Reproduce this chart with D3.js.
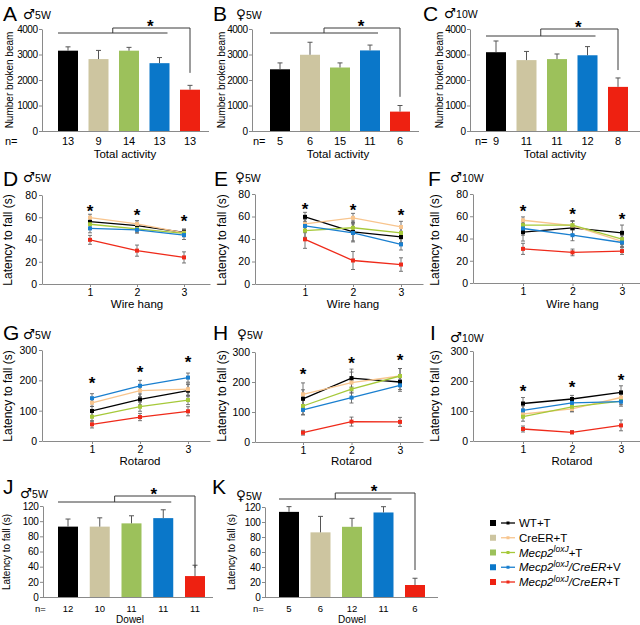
<!DOCTYPE html>
<html><head><meta charset="utf-8">
<script src="https://cdn.jsdelivr.net/npm/d3@7"></script>
<style>
body{margin:0;background:#fff}
svg{display:block;font-family:"Liberation Sans",Arial,Helvetica,sans-serif}
</style>
</head><body>
<svg id="c" width="640" height="625"></svg>
<script>
// ---------------- DATA ----------------
const groups = ["WT+T","CreER+T","Mecp2loxJ+T","Mecp2loxJ/CreER+V","Mecp2loxJ/CreER+T"];
const barColors  = ["#000000","#cdc5a0","#9cc15b","#0a77c9","#ee2111"];
const lineColors = ["#000000","#f8c58e","#a6c93a","#1a7fcf","#ef2a1a"];

// Total activity (number broken beam)
const actM5Mean  = [3150, 2820, 3150, 2660, 1620];
const actM5Err   = [150, 340, 130, 220, 170];
const actM5N     = [13, 9, 14, 13, 13];
const actF5Mean  = [2420, 2990, 2490, 3160, 760];
const actF5Err   = [250, 490, 180, 210, 240];
const actF5N     = [5, 6, 15, 11, 6];
const actM10Mean = [3090, 2780, 2820, 2970, 1730];
const actM10Err  = [440, 340, 200, 340, 350];
const actM10N    = [9, 11, 11, 12, 8];
const actBracketEnd = [2280, 1340, 2390];

// Wire hang latency (s), rows = groups, cols = trial 1..3
const hangM5Mean  = [[56,52.5,46.5],[59.7,54,46],[53.7,49.5,45.5],[50,48.7,44],[39.7,30,23.9]];
const hangM5Err   = [[3,3,3],[3,3,3],[3,3,3],[4,3,4],[4,5,5]];
const hangF5Mean  = [[59.7,46.3,41.8],[53.4,58.8,50.7],[47.5,50,45.4],[51.6,45.4,35.2],[39.7,20.9,17.3]];
const hangF5Err   = [[4,8,5],[5,4,5],[6,6,5],[6,8,5],[8,8,6]];
const hangM10Mean = [[45.7,49.6,45.1],[56.4,51.6,37.5],[52,52,39.4],[49,43,36.4],[30.7,27.5,28.7]];
const hangM10Err  = [[8,6,7],[3,4,5],[5,4,5],[6,5,4],[5,3,3]];
const hangM5Stars = [69, 65.5, 60];
const hangF5Stars = [70, 69, 65];
const hangM10Stars= [68, 65.5, 61];

// Rotarod latency (s)
const rotM5Mean  = [[99,137,166],[126,166,171],[80,113,135],[141,182,209],[55,79,98]];
const rotM5Err   = [[15,18,20],[12,20,20],[15,15,15],[15,18,15],[12,12,15]];
const rotF5Mean  = [[144,213,200],[159,198,220],[120,176,220],[107,148,189],[31,68,67]];
const rotF5Err   = [[30,30,25],[38,35,25],[30,30,25],[15,18,20],[8,15,15]];
const rotM10Mean = [[125,140,162],[90,107,145],[81,114,133],[102,127,131],[40,29,52]];
const rotM10Err  = [[20,12,22],[12,10,10],[15,15,12],[15,12,15],[10,5,18]];
const rotM5Stars  = [204, 241, 274];
const rotF5Stars  = [240, 277, 287];
const rotM10Stars = [180, 193, 217];

// Dowel latency (s)
const dowM5Mean = [92.8, 92.8, 97.1, 104, 27.6];
const dowM5Err  = [10, 11.6, 10, 11, 14.3];
const dowM5N    = [12, 10, 11, 11, 11];
const dowF5Mean = [113.5, 86.2, 93.6, 112.7, 16];
const dowF5Err  = [7, 21.3, 11.3, 7.7, 9];
const dowF5N    = [5, 6, 12, 11, 6];
const dowBracketEnd = [38.5, 36];

const actTicks  = [0,1000,2000,3000,4000];
const hangTicks = [0,20,40,60,80];
const rotTicks  = [0,100,200,300];
const dowTicks  = [0,20,40,60,80,100,120];
const trials = [1,2,3];

// ---------------- DRAWING ----------------
const svg = d3.select("#c");
const AXC = "#8a8a8a";
const fmt = d3.format("d");

function panelLabel(letter, lx, ly, sex, age, sx, sy) {
  svg.append("text").attr("x", lx).attr("y", ly).attr("font-size", 21).text(letter);
  const t = svg.append("text").attr("x", sx).attr("y", sy);
  t.append("tspan").attr("font-size", 13.5).attr("font-family", "DejaVu Sans").text(sex);
  t.append("tspan").attr("font-size", 10.5).text(age);
}

function styleAxis(g, fs, ls) {
  g.selectAll(".domain").attr("stroke", AXC);
  g.selectAll(".tick line").attr("stroke", AXC);
  g.selectAll(".tick text").attr("fill", "#000").attr("font-size", fs)
    .attr("letter-spacing", ls || 0)
    .attr("font-family", '"Liberation Sans", Arial, sans-serif');
}

function yLabel(txt, x, cy, fs) {
  svg.append("text").attr("transform", `translate(${x},${cy}) rotate(-90)`)
    .attr("text-anchor", "middle").attr("font-size", fs).text(txt);
}

function star(x, cy, fs) {
  svg.append("text").attr("x", x).attr("y", cy + fs * 0.58).attr("text-anchor", "middle")
    .attr("font-size", fs).attr("font-weight", "bold").text("*");
}

function barPanel(p) {
  const y = d3.scaleLinear().domain([0, p.yMax]).range([p.y0, p.yTop]);
  const x = d3.scalePoint().domain(groups).range([p.c0, p.c4]);
  const g = svg.append("g");
  g.selectAll("rect").data(p.vals).join("rect")
    .attr("x", (d, i) => x(groups[i]) - p.bw / 2).attr("width", p.bw)
    .attr("y", d => y(d)).attr("height", d => p.y0 - y(d))
    .attr("fill", (d, i) => barColors[i]);
  p.vals.forEach((v, i) => {
    const cx = x(groups[i]), top = y(v + p.errs[i]);
    g.append("line").attr("x1", cx).attr("x2", cx).attr("y1", y(v)).attr("y2", top)
      .attr("stroke", "#555").attr("stroke-width", 1);
    g.append("line").attr("x1", cx - 2.5).attr("x2", cx + 2.5).attr("y1", top).attr("y2", top)
      .attr("stroke", "#555").attr("stroke-width", 1);
  });
  const ya = g.append("g").attr("transform", `translate(${p.ax},0)`)
    .call(d3.axisLeft(y).tickValues(p.ticks).tickFormat(fmt).tickSize(3).tickPadding(1.5).tickSizeOuter(0));
  styleAxis(ya, p.tfs, p.tls);
  g.append("line").attr("x1", p.ax).attr("x2", p.axEnd).attr("y1", p.y0 + 0.5).attr("y2", p.y0 + 0.5)
    .attr("stroke", AXC);
  // n labels
  svg.append("text").attr("x", p.nX).attr("y", p.nY).attr("font-size", p.nfs).text("n=");
  p.ns.forEach((n, i) => {
    svg.append("text").attr("x", x(groups[i])).attr("y", p.nY).attr("text-anchor", "middle")
      .attr("font-size", p.nfs).text(n);
  });
  svg.append("text").attr("x", p.xlX).attr("y", p.xlY).attr("text-anchor", "middle")
    .attr("font-size", p.xlfs).text(p.xlabel);
  // significance bracket
  const lx1 = x(groups[0]) - 10, lx2 = x(groups[3]) + 8, mid = (lx1 + lx2) / 2, rx = x(groups[4]);
  const bc = "#3a3a3a";
  g.append("path").attr("fill", "none").attr("stroke", bc).attr("stroke-width", 1)
    .attr("d", `M${lx1},${p.ly}H${lx2}M${mid},${p.ly}V${p.ty}H${rx}V${y(p.bEnd)}`);
  star((mid + rx) / 2 - 1, p.ty - 6, 17);
}

function linePanel(p) {
  const x = d3.scaleLinear().domain([1, 3]).range([p.x1, p.x3]);
  x.domain([x.invert(p.ax), x.invert(p.axEnd)]).range([p.ax, p.axEnd]);
  const y = d3.scaleLinear().domain([0, p.yMax]).range([p.y0, p.yTop]);
  const g = svg.append("g");
  const ya = g.append("g").attr("transform", `translate(${p.ax},0)`)
    .call(d3.axisLeft(y).tickValues(p.ticks).tickFormat(fmt).tickSize(3).tickPadding(2).tickSizeOuter(0));
  styleAxis(ya, 10.5);
  const xa = g.append("g").attr("transform", `translate(0,${p.y0})`)
    .call(d3.axisBottom(x).tickValues(trials).tickSize(3).tickPadding(2).tickSizeOuter(0).tickFormat(fmt));
  styleAxis(xa, 10.5);
  svg.append("text").attr("x", x(2)).attr("y", p.xlY).attr("text-anchor", "middle")
    .attr("font-size", 11.5).text(p.xlabel);
  const line = d3.line().x((d, i) => x(trials[i])).y(d => y(d));
  // error bars
  p.means.forEach((m, gi) => {
    m.forEach((v, ti) => {
      const cx = x(trials[ti]), e = p.errs[gi][ti];
      g.append("path").attr("fill", "none").attr("stroke", "#666").attr("stroke-width", 0.9)
        .attr("d", `M${cx},${y(v - e)}V${y(v + e)}M${cx - 2},${y(v - e)}H${cx + 2}M${cx - 2},${y(v + e)}H${cx + 2}`);
    });
  });
  p.means.forEach((m, gi) => {
    g.append("path").datum(m).attr("fill", "none").attr("stroke", lineColors[gi])
      .attr("stroke-width", 1.3).attr("d", line);
    g.selectAll(null).data(m).join("rect")
      .attr("x", (d, i) => x(trials[i]) - 2).attr("y", d => y(d) - 2)
      .attr("width", 4).attr("height", 4).attr("fill", lineColors[gi]);
  });
  p.stars.forEach((s, i) => star(x(trials[i]), y(s), 17));
}

// Row 1
panelLabel("A", 3, 21, "\u2642", "5W", 23, 19);
barPanel({vals: actM5Mean, errs: actM5Err, ns: actM5N, yMax: 4000, ticks: actTicks, y0: 131, yTop: 29,
  ax: 42, axEnd: 209, c0: 68, c4: 190, bw: 20, tfs: 10, tls: -0.5, nX: 5, nY: 145, nfs: 11, xlX: 125, xlY: 158, xlfs: 11.5,
  xlabel: "Total activity", ly: 33, ty: 28, bEnd: actBracketEnd[0]});
yLabel("Number broken beam", 12.5, 80, 10);

panelLabel("B", 213, 21, "\u2640", "5W", 236, 19);
barPanel({vals: actF5Mean, errs: actF5Err, ns: actF5N, yMax: 4000, ticks: actTicks, y0: 131, yTop: 29,
  ax: 252, axEnd: 419, c0: 280, c4: 400, bw: 20, tfs: 10, tls: -0.5, nX: 253, nY: 145, nfs: 11, xlX: 338, xlY: 158, xlfs: 11.5,
  xlabel: "Total activity", ly: 33, ty: 28, bEnd: actBracketEnd[1]});
yLabel("Number broken beam", 225, 80, 10);

panelLabel("C", 423, 21, "\u2642", "10W", 444, 18);
barPanel({vals: actM10Mean, errs: actM10Err, ns: actM10N, yMax: 4000, ticks: actTicks, y0: 131, yTop: 29,
  ax: 470, axEnd: 640, c0: 496, c4: 618, bw: 20, tfs: 10, tls: -0.5, nX: 475, nY: 145, nfs: 11, xlX: 555, xlY: 158, xlfs: 11.5,
  xlabel: "Total activity", ly: 36, ty: 29, bEnd: actBracketEnd[2]});
yLabel("Number broken beam", 443, 80, 10);

// Row 2
panelLabel("D", 3, 186, "\u2642", "5W", 23, 182);
linePanel({means: hangM5Mean, errs: hangM5Err, stars: hangM5Stars, yMax: 80, ticks: hangTicks,
  y0: 284, yTop: 195, ax: 42, axEnd: 210, x1: 90, x3: 184, xlY: 308, xlabel: "Wire hang"});
yLabel("Latency to fall (s)", 12, 240, 12);

panelLabel("E", 214, 186, "\u2640", "5W", 235, 182);
linePanel({means: hangF5Mean, errs: hangF5Err, stars: hangF5Stars, yMax: 80, ticks: hangTicks,
  y0: 284, yTop: 194, ax: 255, axEnd: 423, x1: 305, x3: 401, xlY: 308, xlabel: "Wire hang"});
yLabel("Latency to fall (s)", 226, 240, 12);

panelLabel("F", 428, 186, "\u2642", "10W", 450, 182);
linePanel({means: hangM10Mean, errs: hangM10Err, stars: hangM10Stars, yMax: 80, ticks: hangTicks,
  y0: 283, yTop: 194, ax: 473, axEnd: 640, x1: 523, x3: 622, xlY: 308, xlabel: "Wire hang"});
yLabel("Latency to fall (s)", 439, 240, 12);

// Row 3
panelLabel("G", 3, 340, "\u2642", "5W", 23, 339);
linePanel({means: rotM5Mean, errs: rotM5Err, stars: rotM5Stars, yMax: 300, ticks: rotTicks,
  y0: 441, yTop: 350, ax: 42, axEnd: 210, x1: 92, x3: 188, xlY: 465, xlabel: "Rotarod"});
yLabel("Latency to fall (s)", 12, 396, 12);

panelLabel("H", 213, 340, "\u2640", "5W", 237, 339);
linePanel({means: rotF5Mean, errs: rotF5Err, stars: rotF5Stars, yMax: 300, ticks: rotTicks,
  y0: 442, yTop: 352, ax: 255, axEnd: 423, x1: 303, x3: 400, xlY: 465, xlabel: "Rotarod"});
yLabel("Latency to fall (s)", 226, 396, 12);

panelLabel("I", 430, 340, "\u2642", "10W", 450, 342);
linePanel({means: rotM10Mean, errs: rotM10Err, stars: rotM10Stars, yMax: 300, ticks: rotTicks,
  y0: 441, yTop: 351, ax: 473, axEnd: 640, x1: 523, x3: 621, xlY: 465, xlabel: "Rotarod"});
yLabel("Latency to fall (s)", 439, 396, 12);

// Row 4
panelLabel("J", 3, 494, "\u2642", "5W", 20, 498);
barPanel({vals: dowM5Mean, errs: dowM5Err, ns: dowM5N, yMax: 120, ticks: dowTicks, y0: 597, yTop: 506,
  ax: 43, axEnd: 213, c0: 68, c4: 195, bw: 20, tfs: 10, tls: -0.3, nX: 35, nY: 611.5, nfs: 9.5, xlX: 130, xlY: 622.5, xlfs: 10,
  xlabel: "Dowel", ly: 502, ty: 496, bEnd: dowBracketEnd[0]});
yLabel("Latency to fall (s)", 10, 552, 10);

panelLabel("K", 212, 494, "\u2640", "5W", 236, 500);
barPanel({vals: dowF5Mean, errs: dowF5Err, ns: dowF5N, yMax: 120, ticks: dowTicks, y0: 597, yTop: 507,
  ax: 265, axEnd: 438, c0: 289, c4: 415, bw: 20, tfs: 10, tls: -0.3, nX: 253, nY: 611.5, nfs: 9.5, xlX: 352, xlY: 622.5, xlfs: 10,
  xlabel: "Dowel", ly: 499, ty: 493, bEnd: dowBracketEnd[1]});
yLabel("Latency to fall (s)", 235, 552, 10);

// Legend
const legendParts = [
  [["WT+T", ""]],
  [["CreER+T", ""]],
  [["Mecp2", "i"], ["loxJ", "sup"], ["+T", ""]],
  [["Mecp2", "i"], ["loxJ", "sup"], ["/CreER", "i"], ["+V", ""]],
  [["Mecp2", "i"], ["loxJ", "sup"], ["/CreER", "i"], ["+T", ""]]
];
const lg = svg.append("g");
const legY = d3.scalePoint().domain(groups).range([523, 582]);
groups.forEach((gname, i) => {
  const yy = legY(gname);
  lg.append("rect").attr("x", 490).attr("y", yy - 3).attr("width", 6).attr("height", 6).attr("fill", barColors[i]);
  lg.append("line").attr("x1", 501).attr("x2", 515).attr("y1", yy).attr("y2", yy)
    .attr("stroke", lineColors[i]).attr("stroke-width", 1.3);
  lg.append("rect").attr("x", 506.5).attr("y", yy - 1.5).attr("width", 3).attr("height", 3).attr("fill", lineColors[i]);
  const t = lg.append("text").attr("x", 519).attr("y", yy + 4).attr("font-size", 11.5);
  let raised = false;
  legendParts[i].forEach(([s, st]) => {
    const ts = t.append("tspan").text(s);
    if (st === "i" || st === "sup") ts.attr("font-style", "italic");
    if (st === "sup") { ts.attr("font-size", 8.5).attr("dy", -4.5); raised = true; }
    else if (raised) { ts.attr("dy", 4.5); raised = false; }
  });
});
</script>
</body></html>
